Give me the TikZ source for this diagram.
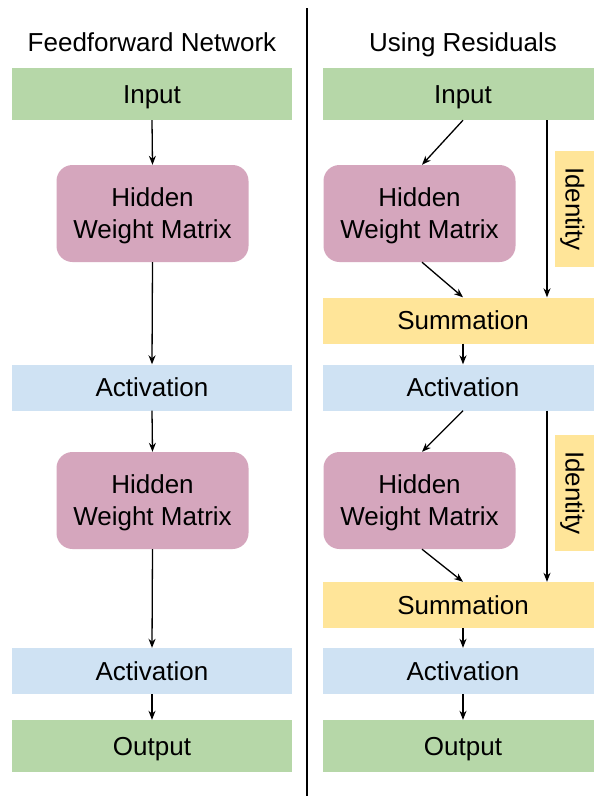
\documentclass[tikz,border=0pt]{standalone}
\usepackage{fontspec}
\setmainfont{Liberation Sans}
\usetikzlibrary{arrows.meta,calc}
\definecolor{cgreen}{HTML}{B6D7A8}
\definecolor{cpink}{HTML}{D5A6BD}
\definecolor{cblue}{HTML}{CFE2F3}
\definecolor{cyellow}{HTML}{FFE599}
\begin{document}
\begin{tikzpicture}[x=1pt,y=-1pt,
  every node/.style={font=\fontsize{26}{32}\selectfont, inner sep=0pt},
  oneline/.style={text height=18.6pt, text depth=0pt},
  bar/.style={oneline, minimum width=280pt, minimum height=#1},
  inbox/.style={bar=52pt, fill=cgreen},
  actbox/.style={bar=46pt, fill=cblue},
  sumbox/.style={bar=46pt, fill=cyellow},
  hidbox/.style={minimum width=192pt, minimum height=97pt, fill=cpink, rounded corners=16pt, align=center, text depth=0pt},
  idbox/.style={oneline, minimum width=116pt, minimum height=40pt, fill=cyellow, rotate=-90},
  arr/.style={-{Stealth[length=9pt,width=7pt]}, line width=1.3pt},
  title/.style={oneline}
]
\clip (0,0) rectangle (594,796);
\useasboundingbox (0,0) rectangle (594,796);
\fill[white] (0,0) rectangle (594,796);

% divider
\draw[line width=2.4pt] (307,8) -- (307,796);

% left column
\node[title] (t1) at (152,42) {Feedforward Network};
\node[inbox]  (lin)  at (152,94)  {Input};
\node[hidbox] (lh1)  at (152.5,213.5) {Hidden\\Weight Matrix};
\node[actbox] (la1)  at (152,387.5) {Activation};
\node[hidbox] (lh2)  at (152.5,500.5) {Hidden\\Weight Matrix};
\node[actbox] (la2)  at (152,671) {Activation};
\node[inbox]  (lout) at (152,746) {Output};

\draw[arr] (lin.south) -- (lh1.north);
\draw[arr] (lh1.south) -- (la1.north);
\draw[arr] (la1.south) -- (lh2.north);
\draw[arr] (lh2.south) -- (la2.north);
\draw[arr] (la2.south) -- (lout.north);

% right column
\node[title] (t2) at (463,42) {Using Residuals};
\node[inbox]  (rin)  at (463,94)  {Input};
\node[hidbox] (rh1)  at (419.5,213.5) {Hidden\\Weight Matrix};
\node[idbox]  (id1)  at (575,209) {Identity};
\node[sumbox] (rs1)  at (463,320.5) {Summation};
\node[actbox] (ra1)  at (463,387.5) {Activation};
\node[hidbox] (rh2)  at (419.5,500.5) {Hidden\\Weight Matrix};
\node[idbox]  (id2)  at (575,493) {Identity};
\node[sumbox] (rs2)  at (463,605) {Summation};
\node[actbox] (ra2)  at (463,671) {Activation};
\node[inbox]  (rout) at (463,746) {Output};

\coordinate (idx) at (547,0);

\draw[arr] (rin.south) -- ([xshift=2.5pt]rh1.north);
\draw[arr] ([xshift=2.5pt]rh1.south) -- (rs1.north);
\draw[arr] (rin.south -| idx) -- (rs1.north -| idx);
\draw[arr] (rs1.south) -- (ra1.north);
\draw[arr] (ra1.south) -- ([xshift=2.5pt]rh2.north);
\draw[arr] ([xshift=2.5pt]rh2.south) -- (rs2.north);
\draw[arr] (ra1.south -| idx) -- (rs2.north -| idx);
\draw[arr] (rs2.south) -- (ra2.north);
\draw[arr] (ra2.south) -- (rout.north);
\end{tikzpicture}
\end{document}
